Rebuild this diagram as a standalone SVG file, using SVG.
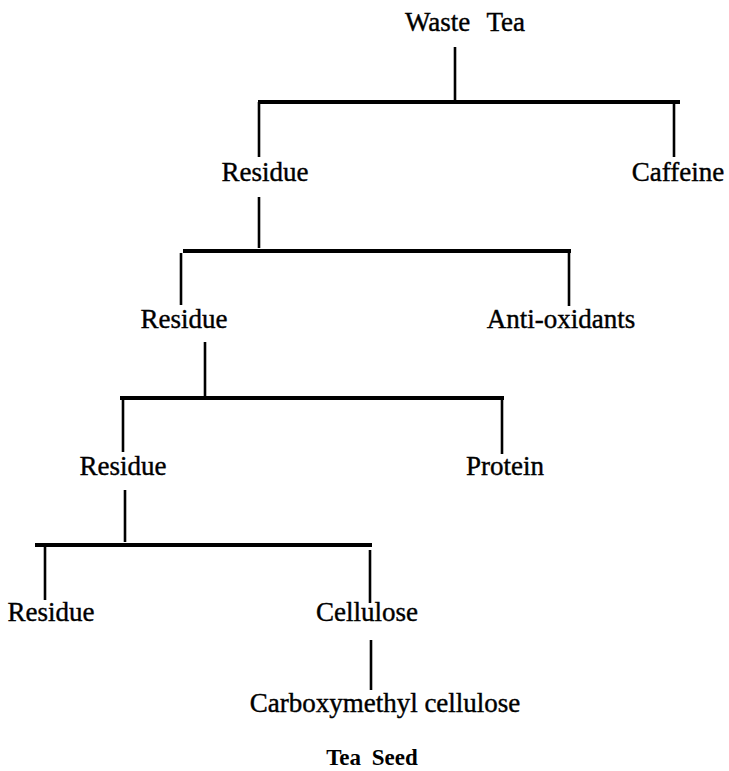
<svg xmlns="http://www.w3.org/2000/svg" width="729" height="771" viewBox="0 0 729 771">
<style>
.t{font-family:"Liberation Serif","Times New Roman",serif;font-size:27px;fill:#000;stroke:#000;stroke-width:0.4}
.b{font-family:"Liberation Serif","Times New Roman",serif;font-size:23px;font-weight:bold;fill:#000}
.bar{stroke:#000;stroke-width:4;fill:none}
.v{stroke:#000;stroke-width:2.6;fill:none}
</style>
<rect width="729" height="771" fill="#fff"/>
<g id="connectors">
<line class="v" x1="455" y1="47" x2="455" y2="101"/>
<line class="bar" x1="258" y1="102" x2="680" y2="102"/>
<line class="v" x1="259" y1="102" x2="259" y2="157"/>
<line class="v" x1="674" y1="102" x2="674" y2="157"/>
<line class="v" x1="259" y1="197" x2="259" y2="248"/>
<line class="bar" x1="183" y1="251" x2="571" y2="251"/>
<line class="v" x1="181" y1="253" x2="181" y2="305"/>
<line class="v" x1="569" y1="253" x2="569" y2="306"/>
<line class="v" x1="205" y1="342" x2="205" y2="396"/>
<line class="bar" x1="120" y1="398" x2="504" y2="398"/>
<line class="v" x1="123" y1="400" x2="123" y2="452"/>
<line class="v" x1="502" y1="400" x2="502" y2="454"/>
<line class="v" x1="125" y1="490" x2="125" y2="542"/>
<line class="bar" x1="35" y1="545" x2="372" y2="545"/>
<line class="v" x1="45" y1="547" x2="45" y2="600"/>
<line class="v" x1="370" y1="550" x2="370" y2="603"/>
<line class="v" x1="371" y1="640" x2="371" y2="690"/>
</g>
<g id="waste-tea"><text class="t" x="465" y="31" text-anchor="middle" word-spacing="10">Waste Tea</text></g>
<g id="residue-1"><text class="t" x="265" y="181" text-anchor="middle">Residue</text></g>
<g id="caffeine"><text class="t" x="678" y="181" text-anchor="middle">Caffeine</text></g>
<g id="residue-2"><text class="t" x="184" y="328" text-anchor="middle">Residue</text></g>
<g id="anti-oxidants"><text class="t" x="561" y="328" text-anchor="middle">Anti-oxidants</text></g>
<g id="residue-3"><text class="t" x="123" y="475" text-anchor="middle">Residue</text></g>
<g id="protein"><text class="t" x="505" y="475" text-anchor="middle">Protein</text></g>
<g id="residue-4"><text class="t" x="51" y="621" text-anchor="middle">Residue</text></g>
<g id="cellulose"><text class="t" x="367" y="621" text-anchor="middle">Cellulose</text></g>
<g id="cmc"><text class="t" x="385" y="712" text-anchor="middle">Carboxymethyl cellulose</text></g>
<g id="tea-seed"><text class="b" x="372" y="765" text-anchor="middle" word-spacing="5">Tea Seed</text></g>
</svg>
